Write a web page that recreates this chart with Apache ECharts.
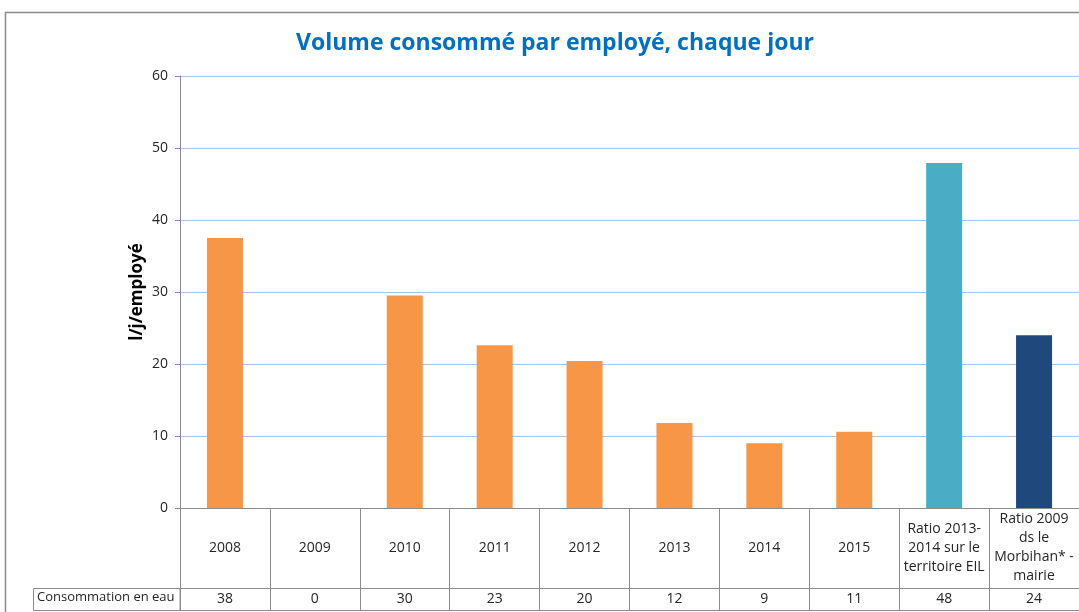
<!DOCTYPE html>
<html>
<head>
<meta charset="utf-8">
<script src="https://cdn.jsdelivr.net/npm/echarts@6/dist/echarts.min.js"></script>
<style>
  html, body { margin: 0; padding: 0; background: #fff; }
  #main { width: 1079px; height: 612px; }
</style>
</head>
<body>
<div id="main"></div>
<script>
var categories = ['2008', '2009', '2010', '2011', '2012', '2013', '2014', '2015',
    'Ratio 2013-\n2014 sur le\nterritoire EIL', 'Ratio 2009\nds le\nMorbihan* -\nmairie'];
var volumes = [37.5, 0, 29.5, 22.6, 20.4, 11.8, 9.0, 10.6, 47.9, 24.0];
var yTicks = [0, 10, 20, 30, 40, 50, 60];
var rowName = 'Consommation en eau';

var barColors = ['#F79646', '#F79646', '#F79646', '#F79646', '#F79646', '#F79646',
    '#F79646', '#F79646', '#4BACC6', '#1F497D'];

var myChart = echarts.init(document.getElementById('main'));

var font = 'Open Sans, Liberation Sans, sans-serif';
var lineCol = '#8c8c8c';

var option = {
    backgroundColor: '#fff',
    animation: false,
    title: {
        text: 'Volume consommé par employé, chaque jour',
        left: 550,
        textAlign: 'center',
        top: 27,
        textStyle: { color: '#0070C0', fontSize: 23, fontWeight: 'bold', fontFamily: font }
    },
    graphic: [
        { type: 'rect', shape: { x: 5.5, y: 12.5, width: 1200, height: 700 },
          style: { fill: null, stroke: '#8a8a8a', lineWidth: 1.5 }, silent: true },
        { type: 'rect', shape: { x: 33.5, y: 588.5, width: 146.5, height: 22 },
          style: { fill: null, stroke: lineCol, lineWidth: 1 }, silent: true },
        { type: 'text', left: 37, top: 591,
          style: { text: rowName, fill: '#262626', fontSize: 13, fontFamily: font }, silent: true }
    ],
    grid: { left: 180, top: 76, width: 900, height: 432 },
    xAxis: [
        {
            type: 'category',
            data: categories,
            position: 'bottom',
            axisLine: { lineStyle: { color: lineCol } },
            axisTick: { show: true, interval: 0, length: 102, lineStyle: { color: lineCol } },
            axisLabel: {
                interval: 0, margin: 40, verticalAlign: 'middle', lineHeight: 19,
                color: '#262626', fontSize: 14, fontFamily: font
            }
        },
        {
            type: 'category',
            data: categories,
            position: 'bottom',
            offset: 80,
            axisLine: { show: true, lineStyle: { color: lineCol } },
            axisTick: { show: false },
            axisLabel: {
                interval: 0, margin: 11, verticalAlign: 'middle',
                color: '#262626', fontSize: 14, fontFamily: font,
                formatter: function (v, i) { return String(Math.round(volumes[i])); }
            }
        },
        {
            type: 'category',
            data: categories,
            position: 'bottom',
            offset: 102,
            axisLine: { show: true, lineStyle: { color: lineCol } },
            axisTick: { show: false },
            axisLabel: { show: false }
        }
    ],
    yAxis: {
        type: 'value',
        min: yTicks[0],
        max: yTicks[yTicks.length - 1],
        interval: 10,
        name: 'l/j/employé',
        nameLocation: 'middle',
        nameGap: 34,
        nameMoveOverlap: false,
        nameTextStyle: { color: '#000', fontSize: 17, fontWeight: 'bold', fontFamily: font },
        axisLine: { show: true, lineStyle: { color: lineCol } },
        axisTick: { show: true, length: 5, lineStyle: { color: lineCol } },
        axisLabel: { color: '#262626', fontSize: 14, margin: 12, fontFamily: font },
        splitLine: { lineStyle: { color: '#A6C3E8', width: 1 } }
    },
    series: [
        {
            type: 'bar',
            xAxisIndex: 0,
            barWidth: 36,
            data: volumes.map(function (v, i) {
                return { value: v, itemStyle: { color: barColors[i] } };
            })
        }
    ]
};

myChart.setOption(option);
</script>
</body>
</html>
